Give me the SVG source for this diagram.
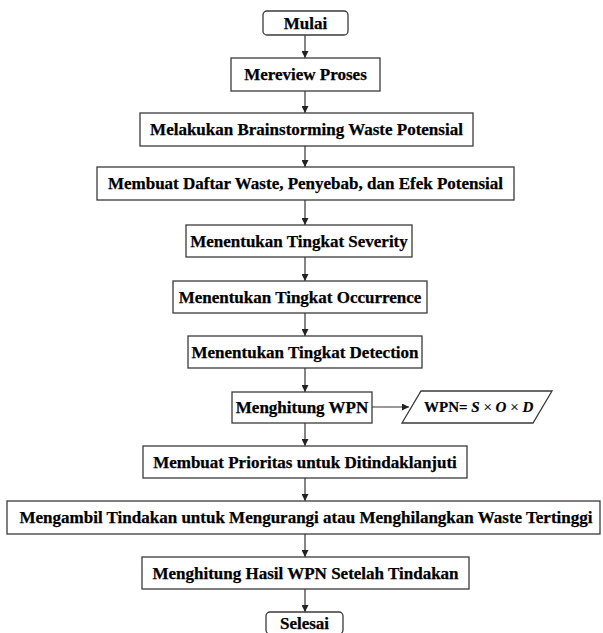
<svg xmlns="http://www.w3.org/2000/svg" width="603" height="633" viewBox="0 0 603 633" font-family="Liberation Serif, Times New Roman, serif" font-weight="bold">
<defs>
<marker id="ah" viewBox="0 0 10 10" refX="10" refY="5" markerWidth="7" markerHeight="7" markerUnits="userSpaceOnUse" orient="auto">
<path d="M0,0 L10,5 L0,10 z" fill="#222"/>
</marker>
<style>
.box{fill:#fff;stroke:#3a3a3a;stroke-width:1.3}
.t{font-size:17px;fill:#000;stroke:#000;stroke-width:0.25;text-anchor:middle}
.f{font-size:15px;fill:#000;stroke:#000;stroke-width:0.2}
.c{stroke:#333;stroke-width:1.2;fill:none;marker-end:url(#ah)}
</style>
</defs>
<rect width="603" height="633" fill="#fff"/>
<g id="connectors">
<line class="c" x1="305" y1="35" x2="305" y2="58"/>
<line class="c" x1="305" y1="91" x2="305" y2="113"/>
<line class="c" x1="305" y1="146" x2="305" y2="167"/>
<line class="c" x1="305" y1="200" x2="305" y2="225"/>
<line class="c" x1="305" y1="257" x2="305" y2="281"/>
<line class="c" x1="305" y1="313" x2="305" y2="336"/>
<line class="c" x1="305" y1="368" x2="305" y2="392"/>
<line class="c" x1="305" y1="423" x2="305" y2="446"/>
<line class="c" x1="305" y1="478" x2="305" y2="501"/>
<line class="c" x1="305" y1="534" x2="305" y2="557"/>
<line class="c" x1="305" y1="589" x2="305" y2="612"/>
<line class="c" x1="372" y1="407" x2="409" y2="407"/>
</g>
<g id="mulai"><rect class="box" x="263" y="11" width="85" height="24" rx="4"/><text class="t" x="305.5" y="29" font-family="Liberation Serif, serif">Mulai</text></g>
<g id="mereview"><rect class="box" x="231" y="58" width="149" height="33"/><text class="t" x="305.5" y="80" font-family="Liberation Serif, serif">Mereview Proses</text></g>
<g id="brainstorming"><rect class="box" x="140" y="113" width="333" height="33"/><text class="t" x="306.5" y="135" font-family="Liberation Serif, serif">Melakukan Brainstorming Waste Potensial</text></g>
<g id="daftar"><rect class="box" x="97" y="167" width="417" height="33"/><text class="t" x="305.5" y="189" font-family="Liberation Serif, serif">Membuat Daftar Waste, Penyebab, dan Efek Potensial</text></g>
<g id="severity"><rect class="box" x="186" y="225" width="226" height="32"/><text class="t" x="299" y="247" font-family="Liberation Serif, serif">Menentukan Tingkat Severity</text></g>
<g id="occurrence"><rect class="box" x="173" y="281" width="254" height="32"/><text class="t" x="300" y="303" font-family="Liberation Serif, serif">Menentukan Tingkat Occurrence</text></g>
<g id="detection"><rect class="box" x="188" y="336" width="234" height="32"/><text class="t" x="305" y="358" font-family="Liberation Serif, serif">Menentukan Tingkat Detection</text></g>
<g id="wpn"><rect class="box" x="232" y="392" width="140" height="31"/><text class="t" x="302" y="413" font-family="Liberation Serif, serif">Menghitung WPN</text></g>
<g id="rumus"><polygon class="box" points="421,391 552,391 533,423 402,423"/><text class="f" x="424" y="412" font-family="Liberation Serif, serif">WPN= <tspan font-style="italic">S</tspan><tspan font-weight="normal"> × </tspan><tspan font-style="italic">O</tspan><tspan font-weight="normal"> × </tspan><tspan font-style="italic">D</tspan></text></g>
<g id="prioritas"><rect class="box" x="143" y="446" width="324" height="32"/><text class="t" x="305" y="468" font-family="Liberation Serif, serif">Membuat Prioritas untuk Ditindaklanjuti</text></g>
<g id="tindakan"><rect class="box" x="7" y="501" width="593" height="33"/><text class="t" x="306" y="523" font-family="Liberation Serif, serif">Mengambil Tindakan untuk Mengurangi atau Menghilangkan Waste Tertinggi</text></g>
<g id="hasil"><rect class="box" x="142" y="557" width="327" height="32"/><text class="t" x="305.5" y="579" font-family="Liberation Serif, serif">Menghitung Hasil WPN Setelah Tindakan</text></g>
<g id="selesai"><rect class="box" x="266" y="612" width="77" height="22" rx="4"/><text class="t" x="304.5" y="629" font-family="Liberation Serif, serif">Selesai</text></g>
</svg>
